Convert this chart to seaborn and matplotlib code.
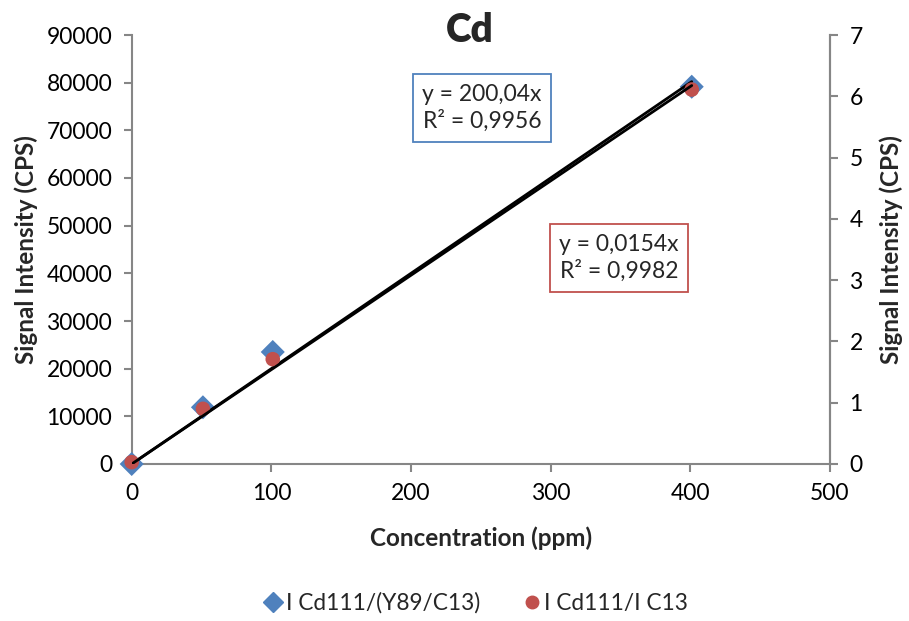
import numpy as np
import pandas as pd
import matplotlib
matplotlib.use("Agg")
import matplotlib.pyplot as plt
import seaborn as sns
from matplotlib.lines import Line2D

# Calibration data
concentration = [0, 51, 101, 401]                       # ppm
ratio_y89 = [0, 11900, 23500, 79150]                    # I Cd111/(Y89/C13), left axis
ratio_c13 = [0.03, 0.90, 1.71, 6.11]                    # I Cd111/I C13, right axis

# Fitted trendlines (through origin)
slope_y89, r2_y89 = 200.04, 0.9956
slope_c13, r2_c13 = 0.0154, 0.9982

label_y89 = "I Cd111/(Y89/C13)"
label_c13 = "I Cd111/I C13"
title = "Cd"
xlabel = "Concentration (ppm)"
ylabel = "Signal Intensity (CPS)"

blue = "#4F81BD"
red = "#C0504D"
axis_gray = "#868686"

sns.set_theme(style="white")
plt.rcParams["font.family"] = ["Lato", "DejaVu Sans"]

fig = plt.figure(figsize=(9.09, 6.21), dpi=100)
ax = fig.add_axes([131.7 / 909, 1 - 464 / 621, (830 - 131.7) / 909, (464 - 35) / 621])
ax2 = ax.twinx()

df = pd.DataFrame({"conc": concentration, "y89": ratio_y89, "c13": ratio_c13})
x_fit = np.array([concentration[0], concentration[-1]], dtype=float)
fit = pd.DataFrame({"x": x_fit, "y89": slope_y89 * x_fit, "c13": slope_c13 * x_fit})

sns.scatterplot(data=df, x="conc", y="y89", ax=ax, marker="D", s=150, color=blue,
                edgecolor="none", zorder=3, clip_on=False)
sns.lineplot(data=fit, x="x", y="y89", ax=ax, color="black", linewidth=2, zorder=4)

sns.scatterplot(data=df, x="conc", y="c13", ax=ax2, marker="o", s=110, color=red,
                edgecolor="none", zorder=3, clip_on=False)
sns.lineplot(data=fit, x="x", y="c13", ax=ax2, color="black", linewidth=2, zorder=4)

ax.set_xlim(0, 500)
ax.set_ylim(0, 90000)
ax2.set_ylim(0, 7)
ax.set_xticks(range(0, 501, 100))
ax.set_yticks(range(0, 90001, 10000))
ax2.set_yticks(range(0, 8))

tick_fs = 16.5
label_fs = 17.5
for a in (ax, ax2):
    for s in a.spines.values():
        s.set_color(axis_gray)
        s.set_linewidth(1.5)
    a.spines["top"].set_visible(False)
    a.tick_params(axis="both", which="major", direction="out", length=6, width=1.5,
                  color=axis_gray, labelsize=tick_fs, labelcolor="black")
ax.tick_params(axis="y", left=True, pad=8)
ax.tick_params(axis="x", bottom=True, pad=8)
ax2.tick_params(axis="y", right=True, pad=8)
ax2.spines["left"].set_visible(False)
ax2.spines["bottom"].set_visible(False)

ax.set_xlabel(xlabel, fontsize=label_fs, fontweight="bold", labelpad=16)
ax.set_ylabel(ylabel, fontsize=label_fs, fontweight="bold", labelpad=6)
ax2.set_ylabel(ylabel, fontsize=label_fs, fontweight="bold", labelpad=12)

fig.text(470 / 909, 1 - 30 / 621, title, ha="center", va="center",
         fontsize=28, fontweight="heavy")

ax.text(482 / 909, 1 - 108 / 621, f"y = {slope_y89:.2f}x\nR² = {r2_y89:.4f}".replace(".", ","),
        transform=fig.transFigure, ha="center", va="center", fontsize=tick_fs, linespacing=1.3,
        bbox=dict(boxstyle="square,pad=0.42", fc="white", ec=blue, lw=1.3))
ax.text(619 / 909, 1 - 258 / 621, f"y = {slope_c13:.4f}x\nR² = {r2_c13:.4f}".replace(".", ","),
        transform=fig.transFigure, ha="center", va="center", fontsize=tick_fs, linespacing=1.3,
        bbox=dict(boxstyle="square,pad=0.42", fc="white", ec=red, lw=1.3))

handles = [
    Line2D([], [], marker="D", linestyle="none", color=blue, markersize=10, label=label_y89),
    Line2D([], [], marker="o", linestyle="none", color=red, markersize=9, label=label_c13),
]
fig.legend(handles=handles, loc="center", bbox_to_anchor=(475 / 909, 1 - 603 / 621),
           ncol=2, frameon=False, fontsize=16.3, handletextpad=0.05, columnspacing=1.8,
           handlelength=1.0)

fig.savefig("out.png", dpi=100)
